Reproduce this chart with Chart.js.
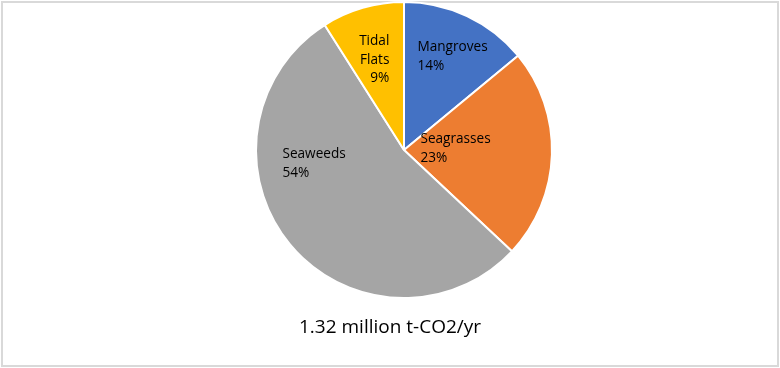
<!DOCTYPE html>
<html>
<head>
<meta charset="utf-8">
<script src="https://cdn.jsdelivr.net/npm/chart.js@4"></script>
<style>
    html, body { margin: 0; padding: 0; background: #fff; }
    #wrap { position: relative; width: 780px; height: 368px; }
</style>
</head>
<body>
<div id="wrap"><canvas id="pie"></canvas></div>
<script>
// Chart data
const categories = ['Mangroves', 'Seagrasses', 'Seaweeds', 'Tidal Flats'];
const shares = [14, 23, 54, 9];
const labelLines = [['Mangroves', '14%'], ['Seagrasses', '23%'], ['Seaweeds', '54%'], ['Tidal', 'Flats', '9%']];
const chartTitle = '1.32 million t-CO2/yr';

const sliceColors = ['#4472C4', '#ED7D31', '#A5A5A5', '#FFC000'];

// where each label block sits, relative to the slice's tooltip position
const labelPlacement = [
    { align: 'left', dx: -18, dy: -26.5 },
    { align: 'left', dx: -57.5, dy: -3.5 },
    { align: 'left', dx: -64.5, dy: -33.5 },
    { align: 'right', dx: 6, dy: -19 }
];

const frameAndText = {
    id: 'frameAndText',
    beforeDraw(chart) {
        const ctx = chart.ctx;
        ctx.save();
        ctx.strokeStyle = '#d9d9d9';
        ctx.lineWidth = 2;
        ctx.strokeRect(2, 2, chart.width - 4, chart.height - 4);
        ctx.restore();
    },
    afterDraw(chart) {
        const ctx = chart.ctx;
        const meta = chart.getDatasetMeta(0);
        ctx.save();
        ctx.fillStyle = '#000';
        ctx.font = '13.6px "Open Sans"';
        ctx.textBaseline = 'middle';
        meta.data.forEach((arc, i) => {
            const pos = arc.tooltipPosition();
            const place = labelPlacement[i];
            const lines = labelLines[i];
            const lh = 18.5;
            const x = pos.x + place.dx;
            const y0 = pos.y + place.dy - (lines.length - 1) * lh / 2;
            ctx.textAlign = place.align;
            lines.forEach((t, j) => ctx.fillText(t, x, y0 + j * lh));
        });

        // bottom title
        ctx.font = '19px "Open Sans"';
        ctx.textAlign = 'center';
        ctx.fillText(chartTitle, chart.width / 2, chart.chartArea.bottom + 29);
        ctx.restore();
    }
};

new Chart(document.getElementById('pie'), {
    type: 'pie',
    data: {
        labels: categories,
        datasets: [{
            data: shares,
            backgroundColor: sliceColors,
            borderColor: '#ffffff',
            borderWidth: 2
        }]
    },
    options: {
        responsive: true,
        maintainAspectRatio: false,
        animation: false,
        layout: {
            padding: { left: 28, right: 0, top: 1, bottom: 69 }
        },
        plugins: {
            legend: { display: false },
            tooltip: { enabled: false },
            title: { display: false }
        }
    },
    plugins: [frameAndText]
});
</script>
</body>
</html>
